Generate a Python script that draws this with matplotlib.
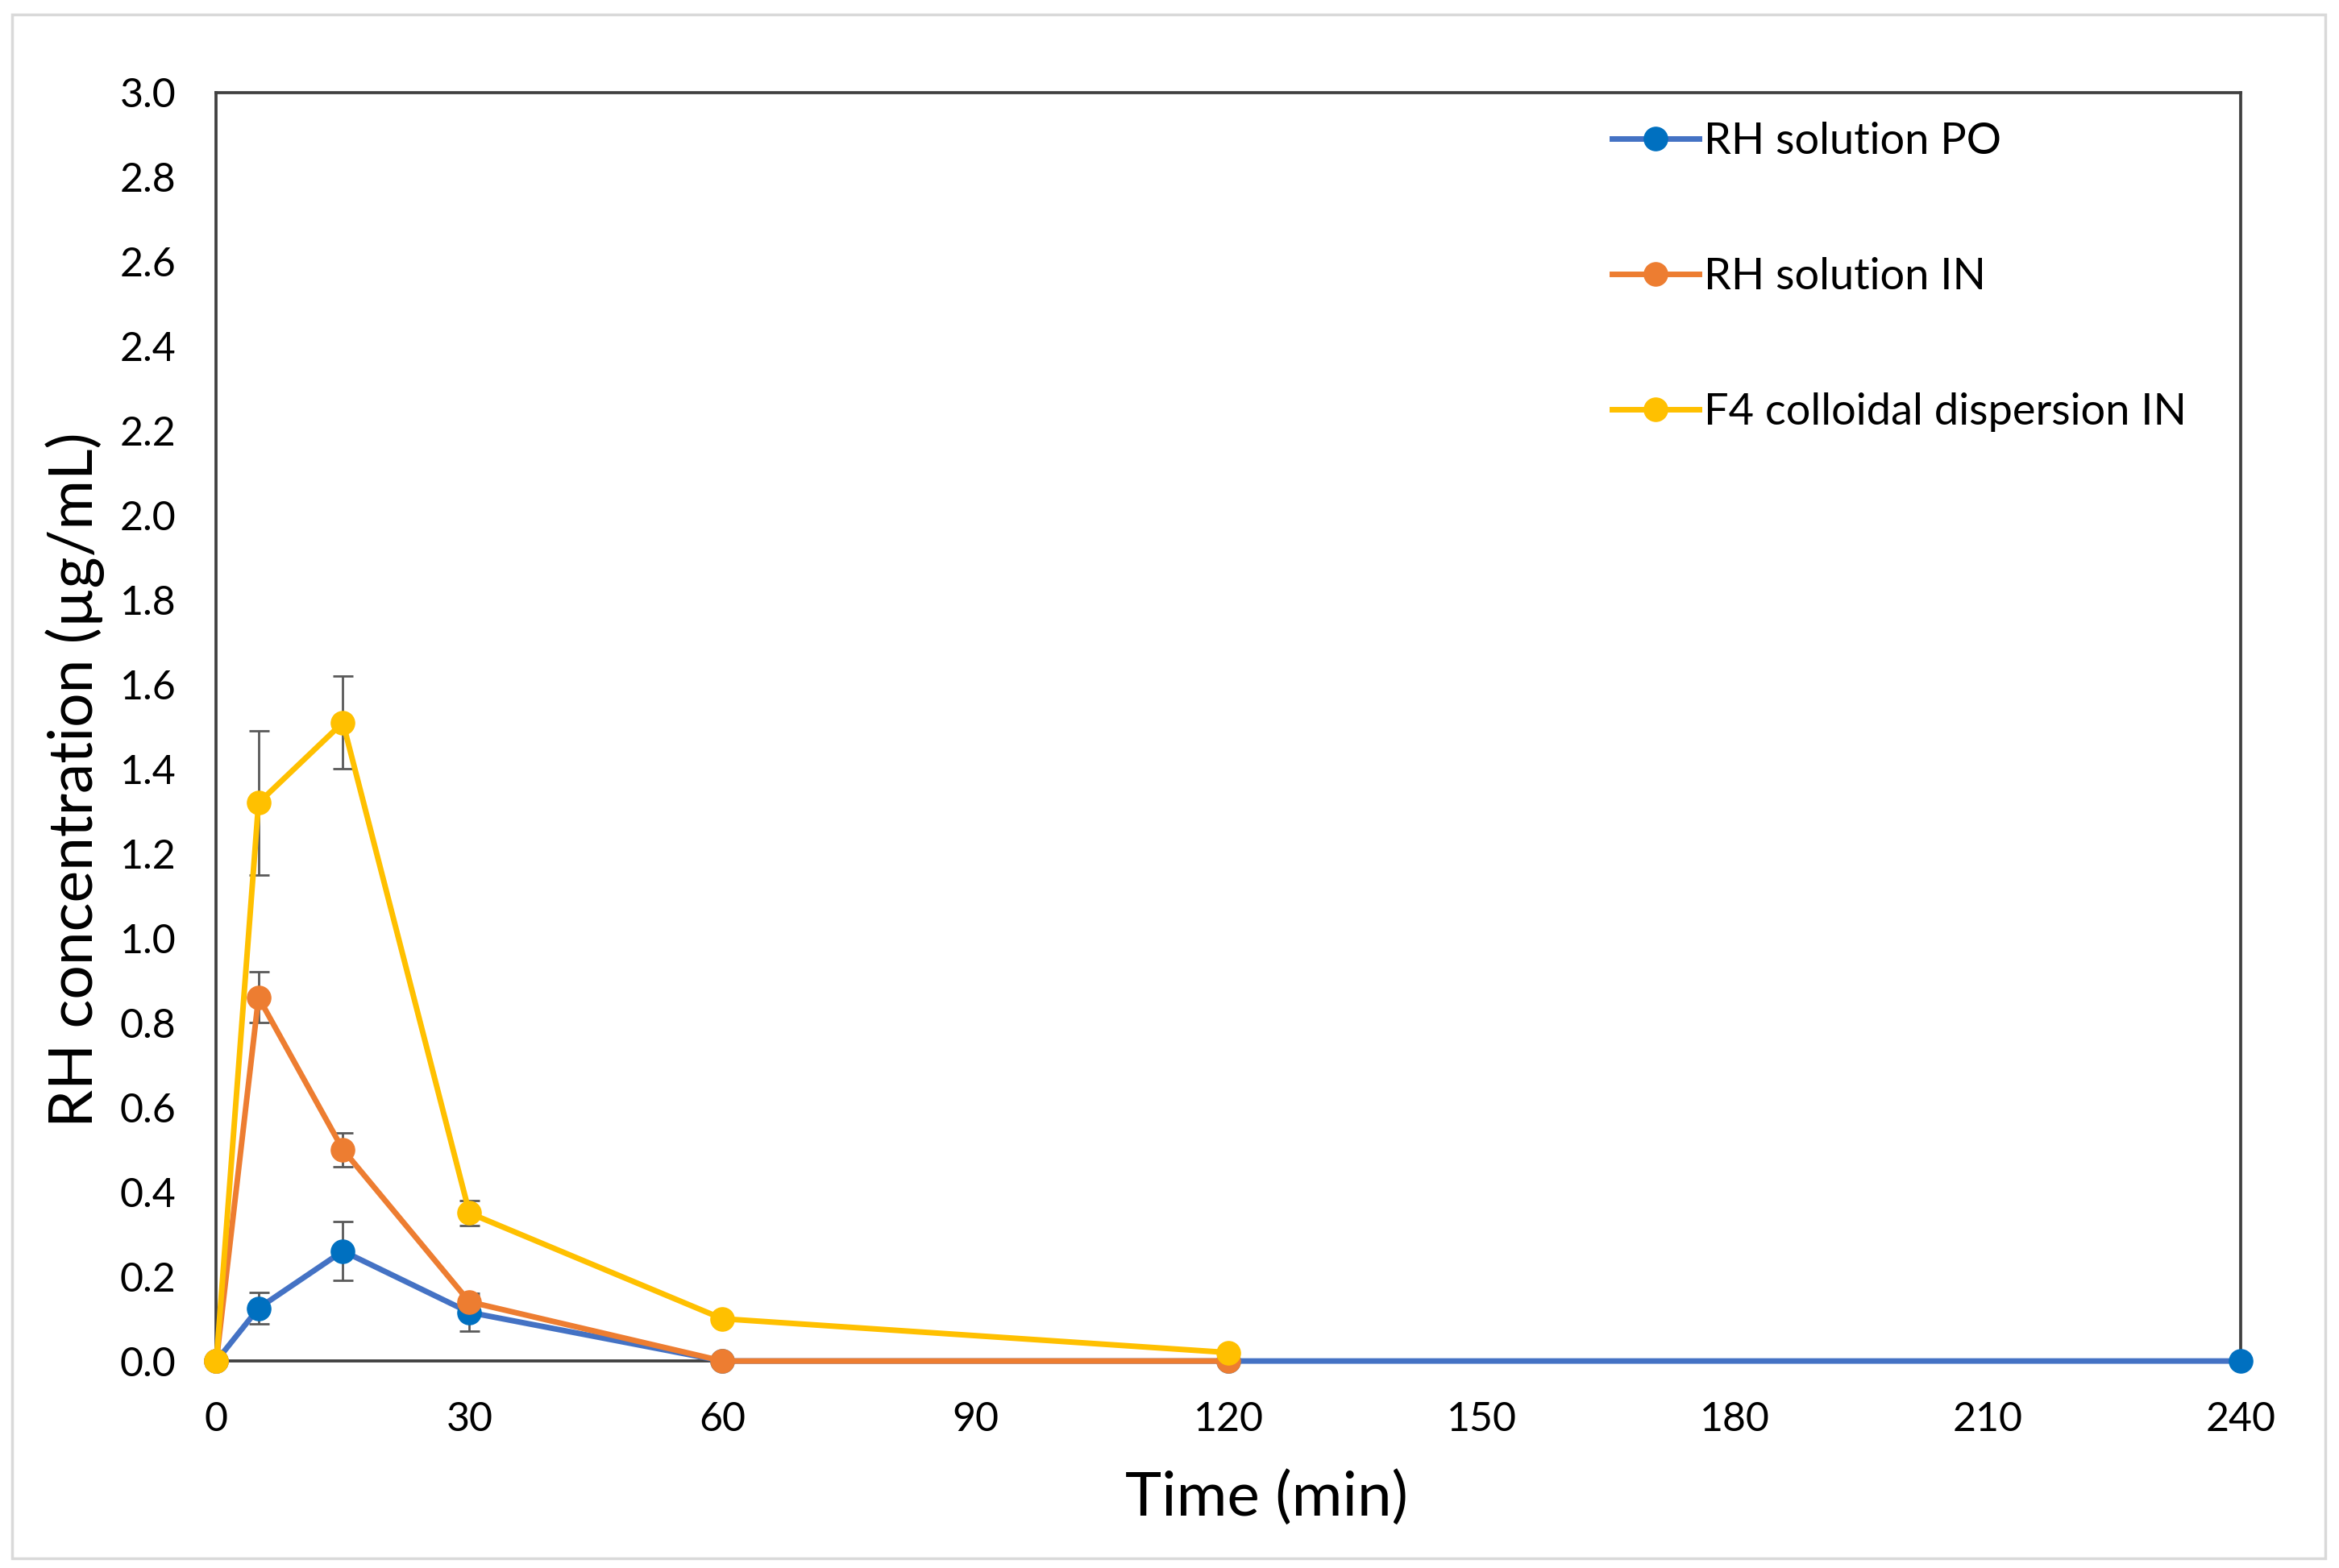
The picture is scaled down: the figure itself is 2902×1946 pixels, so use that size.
import matplotlib
matplotlib.use('Agg')
import matplotlib.pyplot as plt
from matplotlib.patches import Rectangle

plt.rcParams['font.family'] = ['Lato', 'DejaVu Sans']

# sampling times (min)
time = [0, 5, 15, 30, 60, 120, 240]

# RH solution PO
po_t = [0, 5, 15, 30, 60, 120, 240]
po_y = [0, 0.125, 0.26, 0.115, 0, 0, 0]
po_err = [0, 0.037, 0.07, 0.045, 0, 0, 0]

# RH solution IN
in_t = [0, 5, 15, 30, 60, 120]
in_y = [0, 0.86, 0.50, 0.14, 0, 0]
in_err = [0, 0.06, 0.04, 0.015, 0, 0]

# F4 colloidal dispersion IN
f4_t = [0, 5, 15, 30, 60, 120]
f4_y = [0, 1.32, 1.51, 0.35, 0.10, 0.02]
f4_err = [0, 0.17, 0.11, 0.03, 0, 0]

labels = ['RH solution PO', 'RH solution IN', 'F4 colloidal dispersion IN']
yticks = [0.0, 0.2, 0.4, 0.6, 0.8, 1.0, 1.2, 1.4, 1.6, 1.8, 2.0, 2.2, 2.4, 2.6, 2.8, 3.0]
xticks = [0, 30, 60, 90, 120, 150, 180, 210, 240]

fig = plt.figure(figsize=(29.02, 19.46), dpi=100)
ax = fig.add_axes([0.0925, 0.132, 0.8655, 0.809])

# light outer frame
fig.patches.append(Rectangle((0.005, 0.006), 0.989, 0.985, transform=fig.transFigure,
                             fill=False, edgecolor='#d9d9d9', linewidth=2.5))

series = [
    (po_t, po_y, po_err, '#4472C4', '#0070C0'),
    (in_t, in_y, in_err, '#ED7D31', '#ED7D31'),
    (f4_t, f4_y, f4_err, '#FFC000', '#FFC000'),
]
for (t, y, e, lc, mc), lab in zip(series, labels):
    ax.errorbar(t, y, yerr=e, fmt='none', ecolor='#595959', elinewidth=2,
                capsize=9, capthick=2, zorder=2)
    ax.plot(t, y, color=lc, linewidth=5, marker='o', markersize=21,
            markerfacecolor=mc, markeredgecolor=mc, label=lab, zorder=3,
            clip_on=False)

ax.set_xlim(0, 240)
ax.set_ylim(0, 3.0)
ax.set_xticks(xticks)
ax.set_yticks(yticks)
ax.set_yticklabels(['%.1f' % v for v in yticks])
ax.tick_params(axis='both', length=0, labelsize=36, colors='#000000')
ax.tick_params(axis='y', pad=36)
ax.tick_params(axis='x', pad=36)
for sp in ax.spines.values():
    sp.set_color('#404040')
    sp.set_linewidth(2.7)

ax.set_xlabel('Time (min)', fontsize=55)
ax.xaxis.set_label_coords(0.519, -0.108)
ax.xaxis.label.set_verticalalignment('center')
ax.set_ylabel('RH concentration (µg/mL)', fontsize=54)
ax.yaxis.set_label_coords(-0.070, 0.458)
ax.yaxis.label.set_verticalalignment('center')

ax.legend(loc='upper left', bbox_to_anchor=(0.670, 1.008), frameon=False,
          fontsize=39, labelspacing=2.2, handlelength=2.0, handletextpad=0.1,
          markerscale=1.0)

fig.savefig('out.png', dpi=100, facecolor='white')
